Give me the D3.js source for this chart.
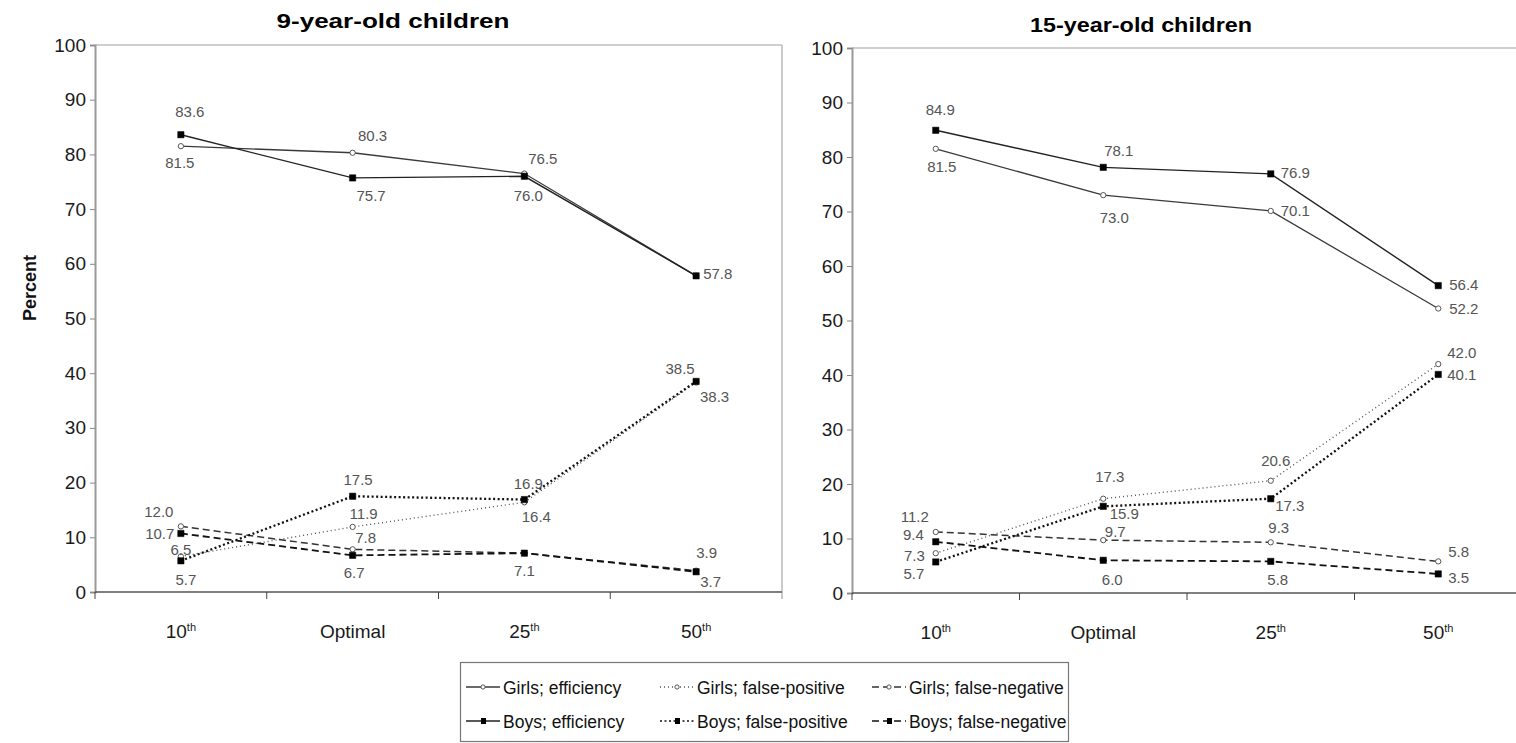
<!DOCTYPE html>
<html><head><meta charset="utf-8">
<script src="https://cdn.jsdelivr.net/npm/d3@7"></script>
<style>
body{margin:0;background:#fff;}
text{font-family:Arial,"Liberation Sans",sans-serif;}
</style>
</head><body>
<svg id="chart" width="1516" height="743"></svg>
<script>
// ---------- data ----------
const categories = ["10", "Optimal", "25", "50"];
const categorySuffix = ["th", "", "th", "th"];
const yTickValues = [0, 10, 20, 30, 40, 50, 60, 70, 80, 90, 100];
const seriesNames = ["Girls; efficiency", "Girls; false-positive", "Girls; false-negative",
                     "Boys; efficiency", "Boys; false-positive", "Boys; false-negative"];
const panelTitles = ["9-year-old children", "15-year-old children"];

// 9-year-old children
const age9GirlsEfficiency    = [81.5, 80.3, 76.5, 57.8];
const age9GirlsFalsePositive = [6.5, 11.9, 16.4, 38.3];
const age9GirlsFalseNegative = [12.0, 7.8, 7.1, 3.9];
const age9BoysEfficiency     = [83.6, 75.7, 76.0, 57.8];
const age9BoysFalsePositive  = [5.7, 17.5, 16.9, 38.5];
const age9BoysFalseNegative  = [10.7, 6.7, 7.1, 3.7];

// 15-year-old children
const age15GirlsEfficiency    = [81.5, 73.0, 70.1, 52.2];
const age15GirlsFalsePositive = [7.3, 17.3, 20.6, 42.0];
const age15GirlsFalseNegative = [11.2, 9.7, 9.3, 5.8];
const age15BoysEfficiency     = [84.9, 78.1, 76.9, 56.4];
const age15BoysFalsePositive  = [5.7, 15.9, 17.3, 40.1];
const age15BoysFalseNegative  = [9.4, 6.0, 5.8, 3.5];

// ---------- layout / style (not data) ----------
const seriesStyle = [
  {dash: null,  width: 1.3, color: "#3a3a3a", marker: "girl"},
  {dash: "1,3", width: 1.4, color: "#555",    marker: "girl"},
  {dash: "7,4", width: 1.5, color: "#333",    marker: "girl"},
  {dash: null,  width: 1.4, color: "#222",    marker: "boy"},
  {dash: "2,2.5", width: 2.3, color: "#111",  marker: "boy"},
  {dash: "7,4", width: 1.8, color: "#111",    marker: "boy"}
];
// label placement per panel, per series, per category: [dx, dy, anchor] or null (hidden)
const labelPlacement9 = [
  [[-1,22,"middle"], [20,-12,"middle"], [18.5,-10,"middle"], null],
  [[0,-1.5,"middle"], [11,-8,"middle"], [12,20,"middle"], [18.5,19.5,"middle"]],
  [[-22,-9.5,"middle"], [13,-6,"middle"], null, [10.5,-12.5,"middle"]],
  [[9,-18,"middle"], [18.5,23,"middle"], [4,25,"middle"], [7,3.5,"start"]],
  [[5,24,"middle"], [5.5,-11,"middle"], [4,-10.5,"middle"], [-16,-7.5,"middle"]],
  [[-6.5,5.5,"end"], [1.5,22.5,"middle"], [0,23,"middle"], [14.5,15,"middle"]]
];
const labelPlacement15 = [
  [[6,23,"middle"], [11,28,"middle"], [10,5,"start"], [11,5,"start"]],
  [[-11,7.5,"end"], [6.5,-17,"middle"], [5,-14.7,"middle"], [9,-5.7,"start"]],
  [[-21,-10,"middle"], [12,-3.4,"middle"], [8,-9,"middle"], [10,-4.7,"start"]],
  [[4.5,-15,"middle"], [15.5,-11.5,"middle"], [10,4.5,"start"], [11,4.6,"start"]],
  [[-11.5,17,"end"], [21,12.7,"middle"], [19,12.3,"middle"], [9,5.7,"start"]],
  [[-12,-1.7,"end"], [9,24.7,"middle"], [7,23.6,"middle"], [10,9.4,"start"]]
];

const panels = [
  {title: panelTitles[0], titleX: 393, titleY: 28, titleLen: 233,
   x0: 95, x1: 782, yTop: 45, yBot: 592,
   series: [age9GirlsEfficiency, age9GirlsFalsePositive, age9GirlsFalseNegative,
            age9BoysEfficiency, age9BoysFalsePositive, age9BoysFalseNegative],
   labels: labelPlacement9},
  {title: panelTitles[1], titleX: 1141, titleY: 32, titleLen: 222,
   x0: 852, x1: 1522, yTop: 48, yBot: 593,
   series: [age15GirlsEfficiency, age15GirlsFalsePositive, age15GirlsFalseNegative,
            age15BoysEfficiency, age15BoysFalsePositive, age15BoysFalseNegative],
   labels: labelPlacement15}
];

const svg = d3.select("#chart");

function drawMarker(g, type, x, y) {
  if (type === "boy") {
    g.append("path")
      .attr("d", d3.symbol().type(d3.symbolSquare).size(40)())
      .attr("transform", `translate(${x},${y})`)
      .attr("fill", "#000").attr("stroke", "#000").attr("stroke-width", 0.5);
  } else {
    g.append("path")
      .attr("d", d3.symbol().type(d3.symbolCircle).size(22)())
      .attr("transform", `translate(${x},${y})`)
      .attr("fill", "#fff").attr("stroke", "#555").attr("stroke-width", 1);
  }
}

panels.forEach(p => {
  const g = svg.append("g");
  const x = d3.scaleBand().domain(categories).range([p.x0, p.x1]).padding(0);
  const y = d3.scaleLinear().domain([0, 100]).range([p.yBot, p.yTop]);
  const cx = c => x(c) + x.bandwidth() / 2;

  // frame: top border and right border
  g.append("line").attr("x1", p.x0).attr("x2", p.x1).attr("y1", p.yTop).attr("y2", p.yTop)
    .attr("stroke", "#a0a0a0").attr("stroke-width", 1.2);
  g.append("line").attr("x1", p.x1).attr("x2", p.x1).attr("y1", p.yTop).attr("y2", p.yBot + 7)
    .attr("stroke", "#b8b8b8").attr("stroke-width", 1.5);

  // y axis
  const yAxis = d3.axisLeft(y).tickValues(yTickValues).tickSize(5).tickPadding(4).tickFormat(d3.format("d"));
  const ya = g.append("g").attr("transform", `translate(${p.x0},0)`).call(yAxis);
  ya.select(".domain").attr("stroke", "#9a9a9a").attr("stroke-width", 2);
  ya.selectAll(".tick line").attr("stroke", "#888");
  ya.selectAll(".tick text").attr("font-size", 19).attr("fill", "#1a1a1a")
    .attr("font-family", "Arial, 'Liberation Sans', sans-serif");

  // x axis line
  g.append("line").attr("x1", p.x0).attr("x2", p.x1).attr("y1", p.yBot).attr("y2", p.yBot)
    .attr("stroke", "#555").attr("stroke-width", 1.6);
  // x ticks at band boundaries
  categories.forEach(c => {
    g.append("line").attr("x1", x(c)).attr("x2", x(c)).attr("y1", p.yBot).attr("y2", p.yBot + 7)
      .attr("stroke", "#444").attr("stroke-width", 1);
  });
  // category labels
  categories.forEach((c, i) => {
    const t = g.append("text").attr("x", cx(c)).attr("y", p.yBot + 46)
      .attr("text-anchor", "middle").attr("font-size", 19).attr("fill", "#1a1a1a");
    t.append("tspan").text(c);
    if (categorySuffix[i]) {
      t.append("tspan").attr("font-size", 11).attr("dy", -7).text(categorySuffix[i]);
    }
  });

  // title
  g.append("text").attr("x", p.titleX).attr("y", p.titleY).attr("text-anchor", "middle")
    .attr("font-size", 20).attr("font-weight", "bold").attr("fill", "#000")
    .attr("textLength", p.titleLen).attr("lengthAdjust", "spacingAndGlyphs")
    .text(p.title);

  // lines
  const line = d3.line().x((d, i) => cx(categories[i])).y(d => y(d));
  p.series.forEach((vals, si) => {
    const st = seriesStyle[si];
    g.append("path").datum(vals).attr("d", line).attr("fill", "none")
      .attr("stroke", st.color).attr("stroke-width", st.width)
      .attr("stroke-dasharray", st.dash);
  });
  // markers
  p.series.forEach((vals, si) => {
    vals.forEach((v, i) => drawMarker(g, seriesStyle[si].marker, cx(categories[i]), y(v)));
  });
  // labels
  p.series.forEach((vals, si) => {
    vals.forEach((v, i) => {
      const pl = p.labels[si][i];
      if (!pl) return;
      g.append("text").attr("x", cx(categories[i]) + pl[0]).attr("y", y(v) + pl[1])
        .attr("text-anchor", pl[2]).attr("font-size", 15).attr("fill", "#555")
        .text(d3.format(".1f")(v));
    });
  });
});

// y axis title
svg.append("text").attr("transform", "translate(36,288) rotate(-90)")
  .attr("text-anchor", "middle").attr("font-size", 18).attr("font-weight", "bold")
  .attr("fill", "#111").text("Percent");

// legend
const leg = svg.append("g");
leg.append("rect").attr("x", 460.5).attr("y", 662.5).attr("width", 608).attr("height", 79)
  .attr("fill", "#fff").attr("stroke", "#777").attr("stroke-width", 1.2);
const legCols = [466, 660, 872];
const legRows = [687, 721];
seriesNames.forEach((name, i) => {
  const col = i % 3, row = Math.floor(i / 3);
  const lx = legCols[col], ly = legRows[row];
  const st = seriesStyle[i];
  leg.append("line").attr("x1", lx).attr("x2", lx + 34).attr("y1", ly).attr("y2", ly)
    .attr("stroke", st.color).attr("stroke-width", Math.min(st.width, 1.6))
    .attr("stroke-dasharray", st.dash);
  if (st.marker === "boy") {
    leg.append("rect").attr("x", lx + 15).attr("y", ly - 3).attr("width", 5).attr("height", 6).attr("fill", "#000");
  } else {
    leg.append("path").attr("d", d3.symbol().type(d3.symbolCircle).size(14)())
      .attr("transform", `translate(${lx + 17},${ly})`).attr("fill", "#fff").attr("stroke", "#555");
  }
  leg.append("text").attr("x", lx + 37).attr("y", ly + 6.5).attr("font-size", 17.5).attr("fill", "#111").text(name);
});
</script>
</body></html>
